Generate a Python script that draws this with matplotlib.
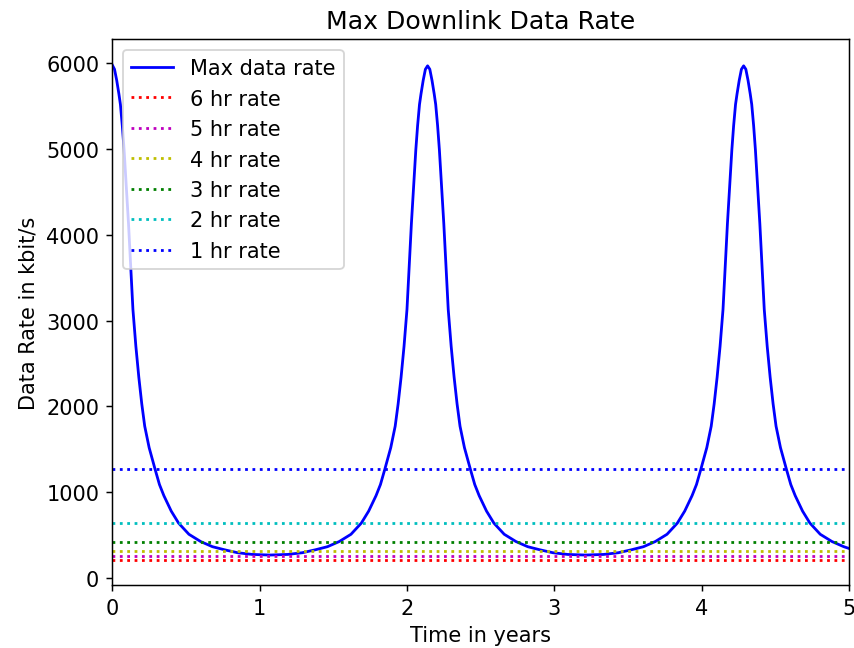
import matplotlib
matplotlib.use("Agg")
import matplotlib.pyplot as plt

# ---------------------------------------------------
#   Data
# ---------------------------------------------------
years = [0.0, 0.015, 0.03, 0.045, 0.055, 0.068, 0.08, 0.095, 0.11, 0.125,
         0.14, 0.16, 0.18, 0.2, 0.22, 0.25, 0.29, 0.32, 0.35, 0.4,
         0.45, 0.52, 0.6, 0.68, 0.76, 0.85, 0.95, 1.07,
         1.19, 1.29, 1.38, 1.46, 1.54, 1.62, 1.69, 1.74, 1.79, 1.82,
         1.85, 1.89, 1.92, 1.94, 1.96, 1.98, 2.0, 2.015, 2.03, 2.045,
         2.06, 2.072, 2.085, 2.095, 2.11, 2.125, 2.14,
         2.155, 2.17, 2.185, 2.195, 2.208, 2.22, 2.235, 2.25, 2.265, 2.28,
         2.3, 2.32, 2.34, 2.36, 2.39, 2.43, 2.46, 2.49, 2.54, 2.59,
         2.66, 2.74, 2.82, 2.9, 2.99, 3.09, 3.21,
         3.335, 3.435, 3.525, 3.605, 3.685, 3.765, 3.835, 3.885, 3.935, 3.965,
         3.995, 4.035, 4.065, 4.085, 4.105, 4.125, 4.145, 4.16, 4.175, 4.19,
         4.205, 4.217, 4.23, 4.24, 4.255, 4.27, 4.285,
         4.3, 4.315, 4.33, 4.34, 4.353, 4.365, 4.38, 4.395, 4.41, 4.425,
         4.445, 4.465, 4.485, 4.505, 4.535, 4.575, 4.605, 4.635, 4.685, 4.735,
         4.805, 4.885, 4.965, 5.0]
max_rate = [5980, 5930, 5800, 5640, 5520, 5270, 4990, 4570, 4130, 3620,
            3130, 2700, 2340, 2030, 1770, 1520, 1270, 1090, 960, 780,
            640, 510, 425, 365, 330, 295, 275, 268,
            275, 295, 330, 365, 425, 510, 640, 780, 960, 1090,
            1270, 1520, 1770, 2030, 2340, 2700, 3130, 3620, 4130, 4570,
            4990, 5270, 5520, 5640, 5800, 5930, 5970,
            5930, 5800, 5640, 5520, 5270, 4990, 4570, 4130, 3620, 3130,
            2700, 2340, 2030, 1770, 1520, 1270, 1090, 960, 780, 640,
            510, 425, 365, 330, 295, 275, 268,
            275, 295, 330, 365, 425, 510, 640, 780, 960, 1090,
            1270, 1520, 1770, 2030, 2340, 2700, 3130, 3620, 4130, 4570,
            4990, 5270, 5520, 5640, 5800, 5930, 5970,
            5930, 5800, 5640, 5520, 5270, 4990, 4570, 4130, 3620, 3130,
            2700, 2340, 2030, 1770, 1520, 1270, 1090, 960, 780, 640,
            510, 425, 365, 345]

pass_labels = ['6 hr rate', '5 hr rate', '4 hr rate', '3 hr rate', '2 hr rate', '1 hr rate']
pass_rates = [212, 255, 319, 425, 637, 1275]
pass_colors = ['r', 'm', 'y', 'g', 'c', 'b']

# ---------------------------------------------------
#   Plot
# ---------------------------------------------------
plt.rcParams['font.size'] = 11.3

fig = plt.figure(figsize=(6.4, 4.8636), dpi=133.44)
ax = fig.add_axes([0.1315, 0.0975, 0.8626, 0.8405])

ax.plot(years, max_rate, color='b', label='Max data rate')
for lbl, rate, col in zip(pass_labels, pass_rates, pass_colors):
    ax.axhline(rate, color=col, linestyle=':', label=lbl)

ax.set_xlim(0, 5)
ax.set_ylim(-78, 6280)
ax.set_yticks(range(0, 7000, 1000))
ax.set_title('Max Downlink Data Rate')
ax.set_xlabel('Time in years')
ax.set_ylabel('Data Rate in kbit/s')
ax.legend(loc='upper left')

fig.savefig('out.png', dpi=133.44)
